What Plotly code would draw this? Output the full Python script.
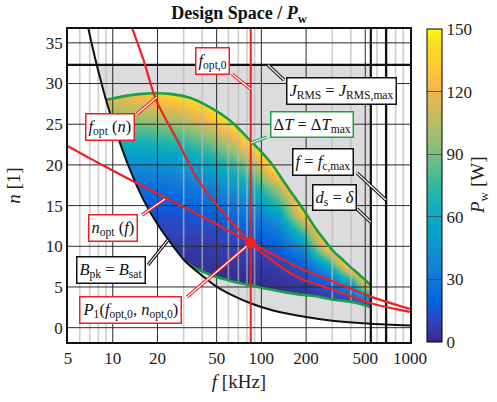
import math
import plotly.graph_objects as go

# ---------------- data ----------------
# heatmap grid of winding loss P_w [W]
f_cols = [9, 14, 20, 30, 45, 65, 90, 130, 190, 280, 400, 545]
n_rows = [2, 3, 4, 5, 6, 7, 8, 10, 12, 14, 17, 20, 23, 26, 29]
pw_f9 = [0, 0, 0, 1, 1, 2, 3, 5, 8, 13, 24, 42, 66, 97, 122]
pw_f14 = [0, 0, 0, 1, 1, 2, 3, 5, 8, 14, 24, 42, 68, 98, 128]
pw_f20 = [0, 0, 0, 1, 1, 2, 3, 5, 9, 14, 25, 44, 71, 103, 138]
pw_f30 = [0, 0, 0, 1, 1, 2, 3, 6, 10, 15, 28, 48, 76, 110, 148]
pw_f45 = [0, 0, 1, 1, 2, 3, 4, 7, 11, 18, 33, 57, 90, 129, 160]
pw_f65 = [0, 0, 1, 1, 2, 3, 5, 8, 14, 23, 44, 75, 115, 160, 160]
pw_f90 = [0, 0, 1, 2, 3, 4, 6, 11, 20, 33, 62, 104, 158, 160, 160]
pw_f130 = [0, 1, 1, 3, 4, 7, 10, 18, 33, 55, 100, 160, 160, 160, 160]
pw_f190 = [0, 1, 3, 5, 9, 14, 21, 44, 80, 130, 160, 160, 160, 160, 160]
pw_f280 = [1, 3, 8, 15, 26, 44, 68, 135, 160, 160, 160, 160, 160, 160, 160]
pw_f400 = [2, 7, 18, 40, 75, 122, 160, 160, 160, 160, 160, 160, 160, 160, 160]
pw_f545 = [8, 26, 66, 128, 160, 160, 160, 160, 160, 160, 160, 160, 160, 160, 160]
pw_columns = [pw_f9, pw_f14, pw_f20, pw_f30, pw_f45, pw_f65, pw_f90,
              pw_f130, pw_f190, pw_f280, pw_f400, pw_f545]

# B_pk = B_sat boundary
bsat_f = [6.0, 7.0, 7.8, 8.0, 9.0, 10.9, 13.0, 16.0, 20.0, 26.9, 31.0, 35.0,
          50.0, 65.0, 84.5, 120, 200, 300, 545, 1000]
bsat_n = [42.0, 36.0, 32.3, 31.5, 28.0, 23.3, 19.5, 15.8, 12.7, 9.45, 8.1, 7.25,
          5.05, 3.9, 3.0, 2.1, 1.3, 0.86, 0.48, 0.26]

# Delta T = Delta T_max contour (upper and lower branch)
dT_top_f = [9.0, 10, 12, 15, 20, 25, 33, 40, 50, 60, 70, 85, 100, 120, 141, 160,
            182, 210, 236, 270, 305, 350, 395, 450, 500, 545]
dT_top_n = [28.0, 28.15, 28.45, 28.7, 28.8, 28.7, 28.25, 27.6, 26.6, 25.6, 24.5,
            22.9, 21.6, 19.9, 18.0, 16.55, 15.1, 13.4, 12.0, 10.6, 9.4, 8.4, 7.5,
            6.6, 5.85, 5.2]
dT_bot_f = [31, 36, 42, 47.5, 55, 65, 75, 84.5, 100, 120, 140, 170, 200, 236, 270,
            305, 350, 395, 450, 500, 545]
dT_bot_n = [8.1, 7.3, 6.75, 6.35, 6.0, 5.65, 5.4, 5.2, 4.9, 4.62, 4.4, 4.15, 4.0,
            3.85, 3.62, 3.45, 3.32, 3.2, 2.98, 2.72, 2.5]

# optimum curves
fopt_f = [13.27, 16.1, 19.55, 26.7, 37.5, 53.5, 84.8, 121.4, 182, 303, 538, 1000]
fopt_n = [37.19, 32.9, 28.0, 23.3, 18.15, 14.46, 10.44, 8.07, 6.07, 4.67, 3.03, 1.93]
nopt_f = [5.0, 7.03, 14.0, 28.3, 50.0, 84.8, 182, 303, 538, 1000]
nopt_n = [22.3, 20.8, 17.9, 15.07, 12.7, 10.44, 7.3, 5.68, 3.85, 2.3]

P1_f, P1_n = 84.8, 10.44
J_RMS_MAX_N = 32.3
F_DS = 545
F_CMAX = 690

x_tick_vals = [5, 10, 20, 50, 100, 200, 500, 1000]
x_major = [10, 20, 50, 100, 200, 500]
x_minor = [6, 7, 8, 9, 30, 40, 60, 70, 80, 90, 300, 400, 600, 700, 800, 900]
y_tick_vals = [0, 5, 10, 15, 20, 25, 30, 35]
cbar_ticks = [0, 30, 60, 90, 120, 150]

# ---------------- layout geometry ----------------
W, H = 497, 402
ML, MR, MT, MB = 68, 87, 29, 60
PW = W - ML - MR
PH = H - MT - MB
XMIN, XMAX = 5, 1000
YMIN, YMAX = -1.76, 36.7
LX0, LX1 = math.log10(XMIN), math.log10(XMAX)


def pxp(xp):
    return (xp - ML) / PW


def pyp(yp):
    return (H - MB - yp) / PH


def px2f(xp):
    return 10 ** (LX0 + (xp - ML) / PW * (LX1 - LX0))


def py2n(yp):
    return YMIN + (H - MB - yp) / PH * (YMAX - YMIN)


FONT = "Liberation Serif"
RED = "#ee1f25"
GREEN = "#1c9e48"
GRAY = "#dcdcde"

parula_pts = [
    (0.2081, 0.1663, 0.5292), (0.1959, 0.2645, 0.7279), (0.0117, 0.3875, 0.8820),
    (0.0498, 0.4586, 0.8641), (0.0793, 0.5200, 0.8312), (0.0343, 0.5966, 0.8199),
    (0.0228, 0.6535, 0.7768), (0.0843, 0.6928, 0.7062), (0.2178, 0.7250, 0.6193),
    (0.3953, 0.7459, 0.5244), (0.5709, 0.7485, 0.4494), (0.7184, 0.7411, 0.3905),
    (0.8507, 0.7299, 0.3360), (0.9739, 0.7314, 0.2666), (0.9880, 0.8066, 0.1794),
    (0.9626, 0.8705, 0.1309), (0.9763, 0.9831, 0.0538)]
parula_idx = [0, 4, 8, 12, 16, 20, 24, 28, 32, 36, 40, 44, 48, 52, 56, 60, 63]
parula = [[i / 63, "rgb(%d,%d,%d)" % tuple(round(c * 255) for c in col)]
          for i, col in zip(parula_idx, parula_pts)]

z = [[pw_columns[j][i] for j in range(len(f_cols))] for i in range(len(n_rows))]

fig = go.Figure()

fig.add_trace(go.Heatmap(
    x=f_cols, y=n_rows, z=z, zmin=0, zmax=150, zsmooth="best",
    colorscale=parula, hoverinfo="skip",
    colorbar=dict(
        x=(426.7 - ML) / PW, xanchor="left", xpad=0, ypad=0,
        y=0.5, yanchor="middle", len=1, lenmode="fraction", thickness=15,
        outlinecolor="black", outlinewidth=1,
        tickvals=cbar_ticks, ticks="inside", ticklen=15, tickwidth=1,
        tickcolor="rgba(70,70,70,0.8)",
        tickfont=dict(family=FONT, size=17, color="#222"),
    ),
))


def fill_poly(xs, ys, color):
    fig.add_trace(go.Scatter(x=xs, y=ys, mode="lines", fill="toself",
                             fillcolor=color, line=dict(width=0, color=color),
                             hoverinfo="skip", showlegend=False))


# white region left of / below the saturation curve
fill_poly([4] + bsat_f + [1100, 1100, 4],
          [45] + bsat_n + [0.24, -5, -5], "white")
# gray region above the upper Delta T branch
top_black = [(f, n) for f, n in zip(bsat_f, bsat_n)
             if dT_top_n[0] <= n <= J_RMS_MAX_N]
fill_poly([p[0] for p in top_black] + dT_top_f[1:] + [F_DS],
          [p[1] for p in top_black] + dT_top_n[1:] + [J_RMS_MAX_N], GRAY)
# gray region below the lower Delta T branch
low_black = [(f, n) for f, n in zip(bsat_f, bsat_n) if dT_bot_f[0] < f <= F_DS]
low_black.reverse()
fill_poly(dT_bot_f + [p[0] for p in low_black],
          dT_bot_n + [p[1] for p in low_black], GRAY)
# white region right of d_s = delta
fill_poly([F_DS, 1100, 1100, F_DS], [-5, -5, 45, 45], "white")


def vlines(vals, color, width):
    xs, ys = [], []
    for v in vals:
        xs += [v, v, None]
        ys += [YMIN, YMAX, None]
    fig.add_trace(go.Scatter(x=xs, y=ys, mode="lines",
                             line=dict(color=color, width=width),
                             hoverinfo="skip", showlegend=False))


def hlines(vals, color, width):
    xs, ys = [], []
    for v in vals:
        xs += [XMIN, XMAX, None]
        ys += [v, v, None]
    fig.add_trace(go.Scatter(x=xs, y=ys, mode="lines",
                             line=dict(color=color, width=width),
                             hoverinfo="skip", showlegend=False))


vlines(x_minor, "rgba(185,185,185,0.7)", 1.6)
vlines(x_major, "#2a2a2a", 1)
hlines(y_tick_vals, "#2a2a2a", 1)


def curve(xs, ys, color, width, shape="spline"):
    fig.add_trace(go.Scatter(x=xs, y=ys, mode="lines",
                             line=dict(color=color, width=width, shape=shape,
                                       smoothing=0.8),
                             hoverinfo="skip", showlegend=False))


curve(dT_top_f, dT_top_n, GREEN, 2.6)
curve(dT_bot_f, dT_bot_n, GREEN, 2.6)
hlines([J_RMS_MAX_N], "#111", 2.2)
vlines([F_DS, F_CMAX], "#111", 2.2)
curve(bsat_f, bsat_n, "#111", 2.0)
vlines([P1_f], RED, 2.0)
curve(fopt_f, fopt_n, RED, 2.2)
curve(nopt_f, nopt_n, RED, 2.2)

# leader lines (tail pixel -> head pixel), double stroked
leaders = [
    ((232, 74), (250.5, 89), RED),
    ((137, 114), (157, 97), RED),
    ((284, 80), (268, 65), "#111"),
    ((267, 137), (251, 143), GREEN),
    ((357, 173), (386, 200), "#111"),
    ((357, 209), (370.7, 222), "#111"),
    ((148, 265), (168, 240), "#111"),
    ((142, 215), (165, 199), RED),
    ((187, 297), None, RED),
]
for tail, head, col in leaders:
    hx, hy = (P1_f, P1_n) if head is None else (px2f(head[0]), py2n(head[1]))
    xs = [px2f(tail[0]), hx]
    ys = [py2n(tail[1]), hy]
    fig.add_trace(go.Scatter(x=xs, y=ys, mode="lines", line=dict(color=col, width=3.4),
                             hoverinfo="skip", showlegend=False))
    fig.add_trace(go.Scatter(x=xs, y=ys, mode="lines", line=dict(color="white", width=1.2),
                             hoverinfo="skip", showlegend=False))

fig.add_trace(go.Scatter(x=[P1_f], y=[P1_n], mode="markers",
                         marker=dict(color=RED, size=11),
                         hoverinfo="skip", showlegend=False))

labels = [
    ("<i>f</i><sub>opt,0</sub>", 212.5, 61, RED),
    ("<i>f</i><sub>opt</sub> (<i>n</i>)", 109.5, 127, RED),
    ("<i>J</i><sub>RMS</sub> = <i>J</i><sub>RMS,max</sub>", 341, 91, "#111"),
    ("Δ<i>T</i> = Δ<i>T</i><sub>max</sub>", 312, 124.5, GREEN),
    ("<i>f</i> = <i>f</i><sub>c,max</sub>", 322.5, 161.5, "#111"),
    ("<i>d</i><sub>s</sub> = <i>δ</i>", 334.5, 197, "#111"),
    ("<i>B</i><sub>pk</sub> = <i>B</i><sub>sat</sub>", 111, 270, "#111"),
    ("<i>n</i><sub>opt</sub> (<i>f</i>)", 112.5, 227.5, RED),
    ("<i>P</i><sub>1</sub>(<i>f</i><sub>opt,0</sub>, <i>n</i><sub>opt,0</sub>)", 130.5, 310, RED),
]
annotations = []
for text, xp, yp, col in labels:
    annotations.append(dict(
        text=text, x=pxp(xp), y=pyp(yp), xref="paper", yref="paper",
        xanchor="center", yanchor="middle", showarrow=False,
        font=dict(family=FONT, size=16.5, color="#111"),
        bgcolor="white", bordercolor=col, borderwidth=1.5, borderpad=2))

# colorbar title
annotations.append(dict(
    text="<i>P</i><sub>w</sub> [W]", x=pxp(479), y=pyp(185), xref="paper",
    yref="paper", xanchor="center", yanchor="middle", showarrow=False,
    textangle=-90, font=dict(family=FONT, size=19, color="#222")))

fig.update_layout(
    width=W, height=H,
    margin=dict(l=ML, r=MR, t=MT, b=MB, autoexpand=False),
    paper_bgcolor="white", plot_bgcolor="white",
    showlegend=False,
    title=dict(text="<b>Design Space / <i>P</i><sub>w</sub></b>",
               x=pxp(239), xref="paper", xanchor="center",
               y=1 - 13 / H, yref="container", yanchor="middle",
               font=dict(family=FONT, size=18, color="#111")),
    xaxis=dict(type="log", range=[LX0, LX1], tickvals=x_tick_vals,
               ticktext=[str(v) for v in x_tick_vals], automargin=False,
               showgrid=False, zeroline=False, ticks="",
               showline=True, mirror=True, linecolor="#111", linewidth=1.5,
               tickfont=dict(family=FONT, size=17, color="#222"),
               title=dict(text="<i>f</i> [kHz]", standoff=8,
                          font=dict(family=FONT, size=19, color="#222"))),
    yaxis=dict(range=[YMIN, YMAX], tickvals=y_tick_vals, automargin=False,
               showgrid=False, zeroline=False, ticks="",
               showline=True, mirror=True, linecolor="#111", linewidth=1.5,
               tickfont=dict(family=FONT, size=17, color="#222"),
               title=dict(text="<i>n</i> [1]", standoff=20,
                          font=dict(family=FONT, size=19, color="#222"))),
    annotations=annotations,
)

fig.write_html("out.html", config={"displayModeBar": False},
               post_script="document.body.style.margin='0px';"
                           "document.body.style.overflow='hidden';")
